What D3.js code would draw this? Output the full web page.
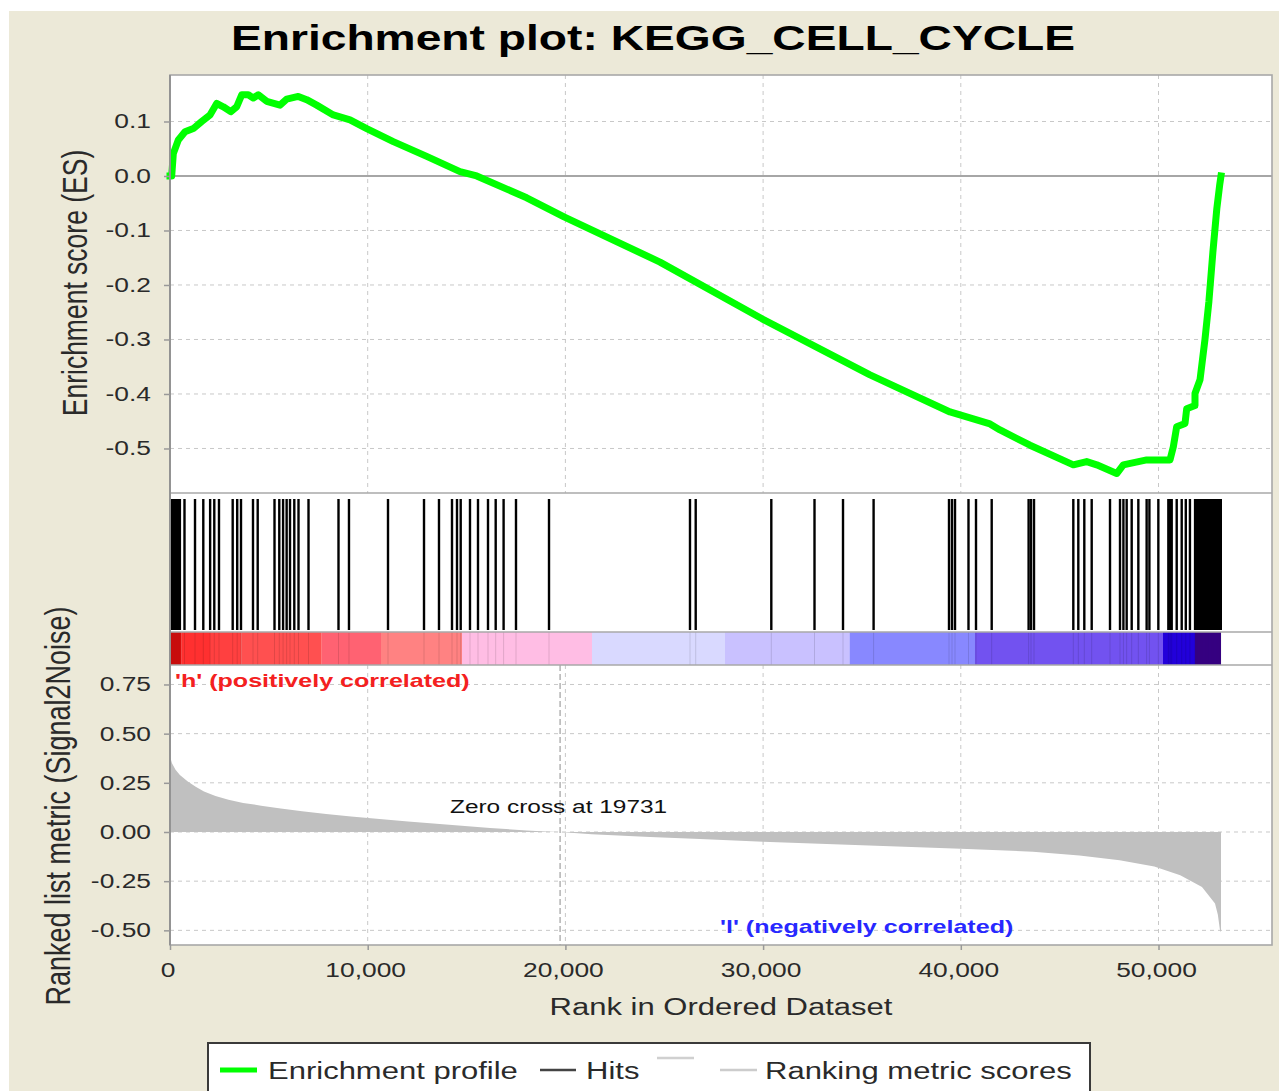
<!DOCTYPE html>
<html><head><meta charset="utf-8">
<script src="https://cdn.jsdelivr.net/npm/d3@7"></script>
<style>body{margin:0;background:#fff;} svg{display:block}</style>
</head><body>
<svg id="c" width="1279" height="1091"></svg>
<script>
// ---------------- DATA ----------------
const titleText = "Enrichment plot: KEGG_CELL_CYCLE";
const totalRanks = 53161;
const zeroCross = 19731;

// running enrichment score [rank, ES]
const esPoints = [
  [0,0],[86,0.0],[167,0.041],[420,0.066],[759,0.081],[1179,0.087],[1603,0.100],[2023,0.112],
  [2362,0.133],[2696,0.127],[3070,0.118],[3374,0.127],[3627,0.149],[3961,0.149],[4213,0.143],
  [4466,0.149],[4891,0.137],[5564,0.130],[5903,0.141],[6490,0.146],[6914,0.140],[7420,0.130],
  [8260,0.112],[9105,0.103],[9950,0.087],[11295,0.063],[12984,0.036],[14669,0.008],[15513,0.0],
  [18043,-0.040],[19930,-0.075],[24785,-0.158],[29945,-0.262],[35408,-0.365],[39454,-0.433],
  [41477,-0.455],[41983,-0.466],[43500,-0.494],[45690,-0.530],[46368,-0.524],[46874,-0.530],
  [47886,-0.546],[48220,-0.530],[49403,-0.521],[50582,-0.521],[50749,-0.497],[50921,-0.460],
  [51341,-0.454],[51427,-0.427],[51846,-0.421],[51846,-0.399],[52099,-0.374],[52350,-0.300],
  [52550,-0.230],[52750,-0.140],[52950,-0.060],[53100,-0.015],[53161,0]
];

// gene set member positions (ranks)
const hitRanks = [
  50,100,150,200,250,300,350,400,450,500,733,1265,1684,2030,2240,2478,3171,3400,3591,4198,4436,
  5286,5528,5720,5900,6070,6287,6500,7006,8523,9053,11027,12848,13606,14264,14517,14704,15174,
  15579,16085,16474,16874,17501,19171,26302,26591,30415,32600,34042,35589,39403,39555,39707,
  40389,40769,41563,43430,43551,43703,45691,45944,46247,46621,47547,48053,48225,48390,48644,
  48980,49400,49540,49992,50498,50590,50668,50921,51174,51380,51590,
  51850,51900,51950,52000,52050,52100,52150,52200,52250,52300,52350,52400,52450,52500,52550,
  52600,52650,52700,52750,52800,52850,52900,52950,53000,53050,53100,53150
];

// ranked list metric [rank, value]
const metricPoints = [
  [0,0.385],[100,0.35],[280,0.317],[500,0.29],[900,0.257],[1300,0.23],[1720,0.206],[2300,0.183],
  [2960,0.164],[3700,0.148],[4610,0.134],[5600,0.119],[6680,0.105],[7900,0.091],[9160,0.079],
  [10600,0.066],[12040,0.054],[14120,0.037],[16190,0.020],[18040,0.008],[19000,0.003],[19731,0],
  [21330,-0.012],[24280,-0.025],[26808,-0.035],[30000,-0.050],[35000,-0.068],[40000,-0.085],
  [43650,-0.100],[46000,-0.120],[48035,-0.144],[49787,-0.175],[51100,-0.220],[52200,-0.280],
  [52858,-0.364],[53000,-0.420],[53110,-0.500],[53161,-0.51]
];

// heat bar band edges (ranks) and colours
const barBreaks = [0,592,2023,3627,7673,10673,14770,21345,28073,34375,40718,50228,51846,53161];
const barColors = ["#E30E0E","#FF3030","#FF4040","#FF5050","#FF6272","#FF8282","#FFBDE4",
                   "#D9D9FF","#C9C1FF","#8888FF","#7252F0","#2200DA","#3D0092"];

const xTicks = [0,10000,20000,30000,40000,50000];
const esTicks = [0.1,0.0,-0.1,-0.2,-0.3,-0.4,-0.5];
const metricTicks = [0.75,0.5,0.25,0.0,-0.25,-0.5];

const legendItems = ["Enrichment profile","Hits","","Ranking metric scores"];

// ---------------- LAYOUT ----------------
const L = 170, R = 1272;
const topY0 = 75, topY1 = 493;
const hitY0 = 499, hitY1 = 630, hitBorder = 632;
const barY0 = 632, barY1 = 665;
const botY0 = 665, botY1 = 945;
const S = 1.32; // horizontal text stretch
const FONT = "'Liberation Sans', Arial, Helvetica, sans-serif";

const svg = d3.select("#c");
svg.append("rect").attr("x",9).attr("y",11).attr("width",1270).attr("height",1080).attr("fill","#ECE9D8");
svg.append("rect").attr("x",L).attr("y",topY0).attr("width",R-L).attr("height",botY1-topY0).attr("fill","#fff");

const x = d3.scaleLinear().domain([0,55741]).range([L,R]);
const yES = d3.scaleLinear().domain([-0.5817,0.1853]).range([topY1,topY0]);
const yM = d3.scaleLinear().domain([-0.5745,0.849]).range([botY1,botY0]);

function txt(parent, px, py, s, o={}) {
  const t = parent.append("text")
    .attr("transform", `translate(${px},${py}) scale(${S},1)` + (o.rotate ? " rotate(-90)" : ""))
    .attr("font-family", FONT).attr("font-size", o.size || 20)
    .attr("text-anchor", o.anchor || "start").attr("fill", o.fill || "#2a2a2a").text(s);
  if (o.bold) t.attr("font-weight", "bold");
  if (o.ls) t.attr("letter-spacing", o.ls);
  return t;
}

const grid = svg.append("g").attr("stroke","#C8C8C8").attr("stroke-width",1).attr("stroke-dasharray","4,4");
// top panel grid
grid.selectAll(".vt").data(xTicks.slice(1)).join("line")
  .attr("x1",d=>x(d)).attr("x2",d=>x(d)).attr("y1",topY0).attr("y2",topY1);
grid.selectAll(".ht").data(esTicks.filter(d=>d!==0)).join("line").attr("class","ht")
  .attr("x1",L).attr("x2",R).attr("y1",d=>yES(d)).attr("y2",d=>yES(d));
// bottom panel grid
const grid2 = svg.append("g").attr("stroke","#C8C8C8").attr("stroke-width",1).attr("stroke-dasharray","4,4");
grid2.selectAll("line.v").data(xTicks.slice(1)).join("line").attr("class","v")
  .attr("x1",d=>x(d)).attr("x2",d=>x(d)).attr("y1",botY0).attr("y2",botY1);
grid2.selectAll("line.h").data(metricTicks).join("line").attr("class","h")
  .attr("x1",L).attr("x2",R).attr("y1",d=>yM(d)).attr("y2",d=>yM(d));

// zero line in ES panel
svg.append("line").attr("x1",L).attr("x2",R).attr("y1",yES(0)).attr("y2",yES(0))
  .attr("stroke","#888").attr("stroke-width",1.3);

// metric area
const area = d3.area().x(d=>x(d[0])).y0(yM(0)).y1(d=>yM(d[1]));
svg.append("path").datum(metricPoints).attr("d",area).attr("fill","#C0C0C0");

// zero cross line
svg.append("line").attr("x1",x(zeroCross)).attr("x2",x(zeroCross)).attr("y1",botY0).attr("y2",botY1)
  .attr("stroke","#A0A0A0").attr("stroke-width",1.2).attr("stroke-dasharray","6,3");

// heat bar
svg.append("g").selectAll("rect").data(barColors).join("rect")
  .attr("x",(d,i)=>x(barBreaks[i])).attr("width",(d,i)=>x(barBreaks[i+1])-x(barBreaks[i]))
  .attr("y",barY0).attr("height",barY1-barY0).attr("fill",d=>d);
svg.append("g").selectAll("line").data(hitRanks).join("line")
  .attr("x1",d=>x(d)).attr("x2",d=>x(d)).attr("y1",barY0).attr("y2",barY1)
  .attr("stroke","rgba(0,0,0,0.12)").attr("stroke-width",1);

// hits
svg.append("g").selectAll("line").data(hitRanks).join("line")
  .attr("x1",d=>x(d)).attr("x2",d=>x(d)).attr("y1",hitY0).attr("y2",hitY1)
  .attr("stroke","#000").attr("stroke-width",2.4);

// ES curve
const line = d3.line().x(d=>x(d[0])).y(d=>yES(d[1]));
svg.append("path").datum(esPoints).attr("d",line).attr("fill","none")
  .attr("stroke","#00FF00").attr("stroke-width",7).attr("stroke-linejoin","round").attr("stroke-linecap","square");

// frames
const fr = svg.append("g").attr("stroke","#A8A8A8").attr("stroke-width",1.6).attr("fill","none");
fr.append("rect").attr("x",L).attr("y",topY0).attr("width",R-L).attr("height",botY1-topY0);
[topY1, hitBorder, barY1].forEach(yy=>fr.append("line").attr("x1",L).attr("x2",R).attr("y1",yy).attr("y2",yy));
svg.append("line").attr("x1",L).attr("x2",L).attr("y1",topY0).attr("y2",botY1).attr("stroke","#909090").attr("stroke-width",1.8);

// axes (tick marks via d3 axes)
const axES = svg.append("g").attr("transform",`translate(${L},0)`)
  .call(d3.axisLeft(yES).tickValues(esTicks).tickSize(6).tickFormat(""));
const axM = svg.append("g").attr("transform",`translate(${L},0)`)
  .call(d3.axisLeft(yM).tickValues(metricTicks).tickSize(6).tickFormat(""));
const axX = svg.append("g").attr("transform",`translate(0,${botY1})`)
  .call(d3.axisBottom(x).tickValues(xTicks).tickSize(5).tickFormat(""));
[axES,axM,axX].forEach(a=>{a.select(".domain").remove(); a.selectAll(".tick line").attr("stroke","#999").attr("stroke-width",1.5);});

// tick labels
const labs = svg.append("g");
esTicks.forEach(d=>txt(labs,151,yES(d)+7,d.toFixed(1),{anchor:"end",size:20}));
metricTicks.forEach(d=>txt(labs,151,yM(d)+7,d.toFixed(2),{anchor:"end",size:20}));
xTicks.forEach(d=>txt(labs,x(d)-2,977,d3.format(",")(d),{anchor:"middle",size:20}));

// axis titles
txt(svg,721,1015,"Rank in Ordered Dataset",{anchor:"middle",size:23.5});
txt(svg,87,283,"Enrichment score (ES)",{anchor:"middle",size:26.5,rotate:true});
txt(svg,70,806,"Ranked list metric (Signal2Noise)",{anchor:"middle",size:27,rotate:true});

// title
txt(svg,653,50,titleText,{anchor:"middle",size:35,bold:true,fill:"#000"});

// annotations
txt(svg,175,687,"'h' (positively correlated)",{size:19,bold:true,fill:"#F42020"});
txt(svg,720,933,"'l' (negatively correlated)",{size:19,bold:true,fill:"#2828FF"});
txt(svg,450,813,"Zero cross at "+zeroCross,{size:18.5,fill:"#111"});

// legend
const lg = svg.append("g");
lg.append("rect").attr("x",208).attr("y",1043).attr("width",882).attr("height",70)
  .attr("fill","#fff").attr("stroke","#3A3A3A").attr("stroke-width",2);
lg.append("line").attr("x1",220).attr("x2",257).attr("y1",1070).attr("y2",1070).attr("stroke","#00FF00").attr("stroke-width",5);
txt(lg,268,1079,legendItems[0],{size:23.5});
lg.append("line").attr("x1",540).attr("x2",576).attr("y1",1070).attr("y2",1070).attr("stroke","#444").attr("stroke-width",2.5);
txt(lg,586,1079,legendItems[1],{size:23.5});
lg.append("line").attr("x1",657).attr("x2",694).attr("y1",1058).attr("y2",1058).attr("stroke","#D0D0D0").attr("stroke-width",2.5);
lg.append("line").attr("x1",720).attr("x2",757).attr("y1",1070).attr("y2",1070).attr("stroke","#CCCCCC").attr("stroke-width",2.5);
txt(lg,765,1079,legendItems[3],{size:23.5});
</script>
</body></html>
